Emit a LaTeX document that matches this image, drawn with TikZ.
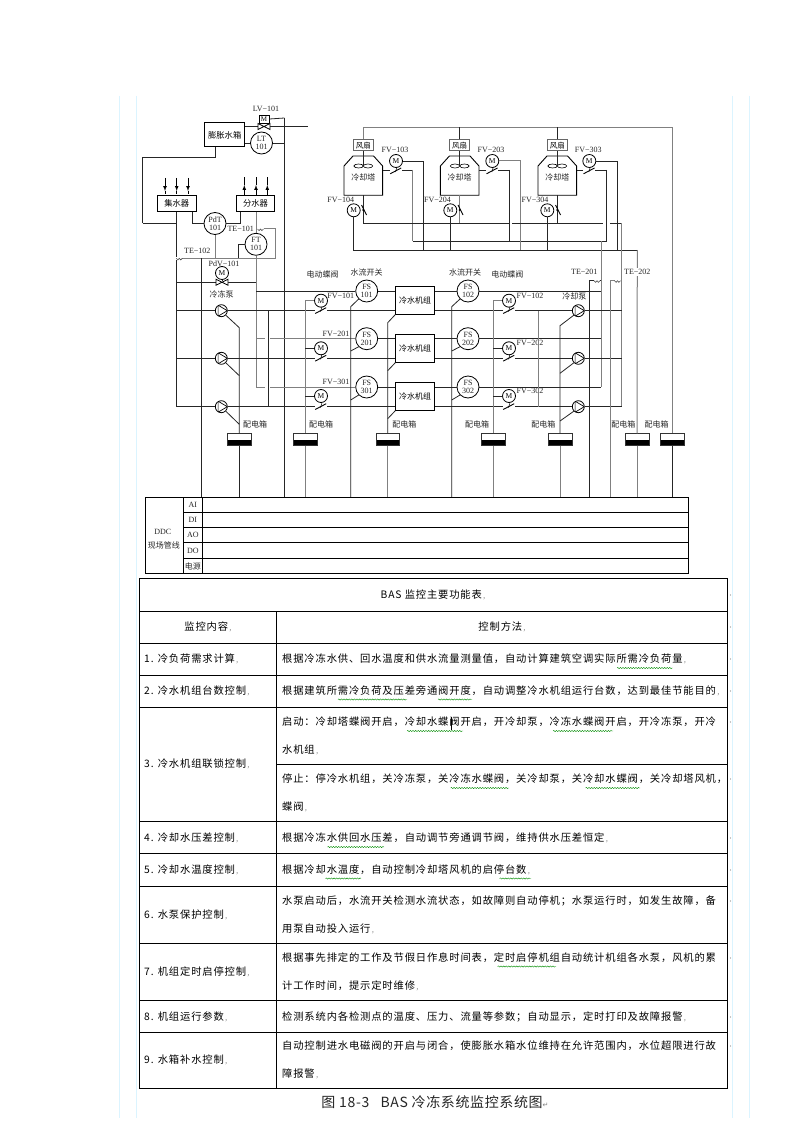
\documentclass[tikz,border=0pt]{standalone}
\usepackage{fontspec}
\setmainfont{Liberation Serif}
\newfontfamily\cjkFont{Noto Sans CJK SC}
\newfontfamily\cjkBody[LetterSpace=8.2]{Noto Sans CJK SC}
\newfontfamily\cjkCaption[LetterSpace=4.5]{Noto Sans CJK SC}
\newfontfamily\arrowFont{DejaVu Sans}
\usetikzlibrary{positioning}
\usetikzlibrary{shapes.geometric,decorations.pathmorphing}
\newcommand{\cellMark}{{\color{black!50}\fontsize{7.5}{7.5}\selectfont\,,}}
\tikzset{
	pipeLine/.style={draw=black!85,line width=0.8pt},
	grayPipe/.style={draw=black!50,line width=1pt},
	tableLine/.style={draw=black,line width=0.9pt},
	spellWave/.style={draw=green!55!black,line width=0.4pt,decorate,decoration={snake,amplitude=0.6pt,segment length=2.6pt}},
	pageEdge/.style={draw=blue!30!cyan!14,line width=0.9pt},
	tagText/.style={font=\fontsize{8}{9}\selectfont,inner sep=0pt,text=black!85},
	cjkTag/.style={font=\fontsize{8}{9}\selectfont\cjkFont,inner sep=0pt,text=black!85},
	cellText/.style={font=\fontsize{10.3}{11}\selectfont\cjkBody,inner sep=0pt,anchor=west},
	meterNode/.style={circle,draw=black,line width=0.8pt,fill=white,minimum size=22pt,inner sep=0pt,align=center,font=\fontsize{8}{7.8}\selectfont,text=black!85},
	motorNode/.style={circle,draw=black,line width=0.8pt,fill=white,minimum size=13pt,inner sep=0pt,font=\fontsize{7.5}{8}\selectfont},
	tankBox/.style={rectangle,draw=black,line width=1pt,fill=white,inner sep=0pt,font=\fontsize{8.3}{9}\selectfont\cjkFont},
	fanBox/.style={rectangle,draw=black!60,line width=1.2pt,fill=white,inner sep=0pt,minimum width=20pt,minimum height=11pt,font=\fontsize{7.5}{8}\selectfont\cjkFont},
	chillerBox/.style={rectangle,draw=black,line width=0.8pt,fill=white,inner sep=0pt,minimum width=39pt,minimum height=28pt,font=\fontsize{8}{9}\selectfont\cjkFont},
	panelBox/.style={rectangle,draw=black!80,line width=0.5pt,fill=white,inner sep=0pt,minimum width=23.5pt,minimum height=11.6pt,
		path picture={\fill[black] (path picture bounding box.west) rectangle (path picture bounding box.south east);}},
	pumpRight/.style={circle,draw=black,line width=0.8pt,fill=white,minimum size=12pt,inner sep=0pt,
		path picture={\draw[line width=0.7pt] ([shift={(-3.2,5.5)}]path picture bounding box.center) -- ([shift={(6,0)}]path picture bounding box.center) -- ([shift={(-3.2,-5.5)}]path picture bounding box.center) -- cycle;}},
	coolTower/.pic={
		\draw[black,line width=0.9pt] (-19.3,20.3) -- (-19.3,-9) -- (-10.3,-19) -- (10.3,-19) -- (19.3,-9) -- (19.3,20.3) -- cycle;
		\draw[black,line width=0.6pt] (-4.7,-9) ellipse (4.7 and 2);
		\draw[black,line width=0.6pt] (4.7,-9) ellipse (4.7 and 2);
		\node[cjkTag] at (0,2.3) {冷却塔};
		\coordinate (-bot) at (0,20.3);
		\coordinate (-east) at (19.3,-5);
		\coordinate (-hub) at (0,-9);
	},
	slashValve/.pic={
		\fill[white] (-6,-2) rectangle (6,2);
		\draw[black,line width=0.9pt] (-5.8,2.8) -- (5.2,-3);
		\draw[black,line width=0.5pt] (-0.5,1) -- (1,-4);
	},
	towerValve/.pic={
		\fill[black] (0,0) circle (1.1);
		\draw[black,line width=0.9pt] (-1.7,-5) -- (3.3,5);
	},
	bowTie/.pic={
		\draw[black,line width=0.8pt,fill=white] (-6,-3) -- (6,3) -- (6,-3) -- (-6,3) -- cycle;
	},
	sensorWiggle/.pic={
		\fill[white] (-3,-1.5) rectangle (3,1.5);
		\draw[black!70,line width=0.6pt] (-3,0) .. controls (-2,2.2) and (-0.8,2.2) .. (0,0) .. controls (0.8,2.2) and (2,2.2) .. (3,0);
	},
	arrowDown/.pic={
		\draw[-latex,black,line width=0.7pt] (0,0) -- (0,13);
		\draw[black,line width=0.7pt] (0,13) -- (0,16);
	},
	arrowUp/.pic={
		\draw[-latex,black,line width=0.7pt] (0,0) -- (0,-11);
		\draw[black,line width=0.7pt] (0,-11) -- (0,-19);
	},
}
\begin{document}
\begin{tikzpicture}[x=1pt,y=-1pt]
	\useasboundingbox (0,0) rectangle (794,1123);
	\fill[white] (0,0) rectangle (794,1123);
	% page margins
	\draw[pageEdge] (119.3,96) -- (119.3,1118);
	\draw[pageEdge] (136.3,96) -- (136.3,1118);
	\draw[pageEdge] (732.5,96) -- (732.5,1118);
	\draw[pageEdge] (749,96) -- (749,1118);

	% bus levels
	\coordinate (ddcTop) at (0,497);
	\coordinate (waterBus) at (0,223.3);
	\coordinate (coolBus) at (0,241);
	\coordinate (ctlBus) at (0,250);
	\coordinate (topEnd) at (672.3,127.3);
	\coordinate (sensBus) at (0,258.3);

	% expansion tank
	\node[tankBox,minimum width=39.5pt,minimum height=24pt] (expTank) at (224.7,135) {膨胀水箱};
	\node[tagText] (lbLV) at (266,108.5) {LV−101};
	\node[rectangle,draw=black,line width=0.7pt,fill=white,inner sep=0pt,minimum width=10pt,minimum height=8pt,font=\fontsize{7}{7}\selectfont] (mvLV) at (264,119) {M};
	\node[meterNode] (lt101) at (261.5,143) {LT\\101};
	\coordinate (fillEnd) at (308,126.5);
	\coordinate (lvDrop) at (284.3,118);
	\coordinate (tankBend) at (142.6,157.5);
	\coordinate (tankFoot) at (142.6,223);
	\draw[pipeLine] (expTank.east |- fillEnd) -- (fillEnd);
	\pic at (264,126.5) {bowTie};
	\draw[pipeLine] (expTank.east |- lt101) -- (lt101);
	\draw[pipeLine] (mvLV.east) -- (lvDrop);
	\draw[pipeLine] (lt101.east) -- (lt101.east -| lvDrop);
	\draw[pipeLine] (lvDrop) -- (lvDrop |- ddcTop);
	\draw[pipeLine] (215,147) |- (tankBend) -- (tankFoot);

	% collector and distributor
	\node[tankBox,minimum width=38.5pt,minimum height=16pt] (collector) at (176.8,203.7) {集水器};
	\node[tankBox,minimum width=37.5pt,minimum height=16pt] (distributor) at (255.5,203.7) {分水器};
	\pic at (165,178) {arrowDown};
	\pic at (176.7,178) {arrowDown};
	\pic at (188,178) {arrowDown};
	\pic at (244.3,196) {arrowUp};
	\pic at (256,196) {arrowUp};
	\pic at (267.3,196) {arrowUp};
	\node[meterNode] (pdt101) at (215,223.5) {PdT\\101};
	\node[meterNode] (ft101) at (256,244.3) {FT\\101};
	\node[tagText] (lbTE101) at (240.7,229.3) {TE−101};
	\node[tagText] (lbTE102) at (197.3,250.7) {TE−102};
	\node[tagText] (lbPdV) at (224,263.7) {PdV−101};
	\node[motorNode] (mvPdV) at (222,273) {M};
	\node[cjkTag] (lbCWP) at (221.7,294.7) {冷冻泵};
	\coordinate (colLeg) at (192.7,211.7);
	\coordinate (disLeg) at (240.7,211.7);
	\coordinate (retTop) at (176.7,211.7);
	\coordinate (disTop) at (256,211.7);
	\coordinate (retA) at (176.7,310.7);
	\coordinate (retB) at (176.7,358.3);
	\coordinate (retC) at (176.7,406.7);
	\coordinate (bypass) at (176.7,282.3);
	\coordinate (bypassEnd) at (256,282.3);
	\coordinate (ftFoot) at (238.3,258.3);
	\coordinate (teBend) at (275.7,229);
	\coordinate (teCorner) at (275.7,258.3);
	\coordinate (teLeft) at (179.3,258.3);
	\coordinate (pdvDrop) at (201.3,258.3);
	\draw[pipeLine] (tankFoot) -- (retTop |- tankFoot);
	\draw[pipeLine] (colLeg) |- (pdt101);
	\draw[pipeLine] (disLeg) |- (pdt101);
	\draw[pipeLine] (retTop) -- (retC);
	\draw[grayPipe] (disTop) -- (ft101);
	\draw[pipeLine] (ft101.west) -| (ftFoot);
	\draw[grayPipe] (260,229) -- (teBend) -- (teCorner) -- (teLeft);
	\draw[grayPipe] (pdt101) -- (pdt101 |- sensBus);
	\pic at (260.5,229) {sensorWiggle};
	\pic at (179.3,258.3) {sensorWiggle};
	\draw[pipeLine] (pdvDrop) -- (pdvDrop |- ddcTop);
	\draw[pipeLine] (bypass) -- (bypassEnd);
	\pic at (222,282.3) {bowTie};
	\draw[pipeLine] (mvPdV) -- (222,279.5);

	% cooling towers
	\node[fanBox] (fanA) at (363.3,145.3) {风扇};
	\node[fanBox] (fanB) at (459.7,145.3) {风扇};
	\node[fanBox] (fanC) at (557.3,145.3) {风扇};
	\pic (towerA) at (363.3,175) {coolTower};
	\pic (towerB) at (459.7,175) {coolTower};
	\pic (towerC) at (557.3,175) {coolTower};
	\draw[grayPipe] (fanA.north) |- (topEnd);
	\draw[pipeLine] (fanB.north) -- (fanB.north |- topEnd);
	\draw[pipeLine] (fanC.north) -- (fanC.north |- topEnd);
	\draw[pipeLine] (fanA) -- (towerA-hub);
	\draw[pipeLine] (fanB) -- (towerB-hub);
	\draw[pipeLine] (fanC) -- (towerC-hub);
	\node[motorNode] (mFV103) at (396,161) {M};
	\node[motorNode] (mFV203) at (492.3,161) {M};
	\node[motorNode] (mFV303) at (589.3,161) {M};
	\node[motorNode] (mFV104) at (353.7,210.3) {M};
	\node[motorNode] (mFV204) at (450.3,210.3) {M};
	\node[motorNode] (mFV304) at (547.3,210.3) {M};
	\node[tagText] (lbFV103) at (395,149.7) {FV−103};
	\node[tagText] (lbFV203) at (491,149.7) {FV−203};
	\node[tagText] (lbFV303) at (588.3,149.7) {FV−303};
	\node[tagText] (lbFV104) at (340.7,200.3) {FV−104};
	\node[tagText] (lbFV204) at (437.5,200.3) {FV−204};
	\node[tagText] (lbFV304) at (535,200.3) {FV−304};
	\coordinate (inA) at (412.7,170);
	\coordinate (inB) at (509.3,170);
	\coordinate (inC) at (606.7,170);
	\coordinate (ctlA) at (423.7,250);
	\coordinate (ctlB) at (520.3,250);
	\coordinate (ctlC) at (617.3,250);
	\coordinate (ctlEnd) at (637.3,250);
	\coordinate (gapWa) at (509,223.3);
	\coordinate (gapWb) at (512.3,223.3);
	\coordinate (gapWc) at (602.7,223.3);
	\coordinate (gapWd) at (610,223.3);
	\coordinate (supTop) at (621.7,223.3);
	\draw[pipeLine] (towerA-east) -- (inA);
	\draw[pipeLine] (towerB-east) -- (inB);
	\draw[pipeLine] (towerC-east) -- (inC);
	\draw[grayPipe] (inA) -- (inA |- coolBus);
	\draw[pipeLine] (inB) -- (inB |- coolBus);
	\draw[pipeLine] (inC) -- (inC |- coolBus);
	\draw[pipeLine] (inA |- coolBus) -- (inC |- coolBus);
	\pic at (396,171) {slashValve};
	\pic at (492.3,171) {slashValve};
	\pic at (589.3,171) {slashValve};
	\draw[pipeLine] (mFV103) -| (ctlA);
	\draw[grayPipe] (mFV203) -| (ctlB);
	\draw[pipeLine] (mFV303) -| (ctlC);
	\draw[pipeLine] (mFV104) -- (mFV104 |- ctlBus) -- (ctlEnd);
	\draw[pipeLine] (mFV204) -- (mFV204 |- ctlBus);
	\draw[pipeLine] (mFV304) -- (mFV304 |- ctlBus);
	\draw[pipeLine] (towerA-bot) -- (towerA-bot |- waterBus);
	\draw[grayPipe] (towerB-bot) -- (towerB-bot |- waterBus);
	\draw[pipeLine] (towerC-bot) -- (towerC-bot |- waterBus);
	\draw[pipeLine] (towerA-bot |- waterBus) -- (gapWa);
	\draw[pipeLine] (gapWb) -- (gapWc);
	\draw[pipeLine] (gapWd) -- (supTop);
	\pic at (363.3,210) {towerValve};
	\pic at (459.7,210) {towerValve};
	\pic at (557.3,210) {towerValve};

	% chiller row
	\node[chillerBox] (chillerA) at (415.2,300.2) {冷水机组};
	\node[chillerBox] (chillerB) at (415.2,348.3) {冷水机组};
	\node[chillerBox] (chillerC) at (415.2,396.3) {冷水机组};
	\node[meterNode] (fs101) at (366.7,291) {FS\\101};
	\node[meterNode] (fs201) at (366.7,338.7) {FS\\201};
	\node[meterNode] (fs301) at (366.7,387) {FS\\301};
	\node[meterNode] (fs102) at (468,291) {FS\\102};
	\node[meterNode] (fs202) at (468,338.7) {FS\\202};
	\node[meterNode] (fs302) at (468,387) {FS\\302};
	\node[motorNode] (mFV101) at (321,300.7) {M};
	\node[motorNode] (mFV201) at (321,348.3) {M};
	\node[motorNode] (mFV301) at (321,396) {M};
	\node[motorNode] (mFV102) at (509,300.7) {M};
	\node[motorNode] (mFV202) at (509,348.3) {M};
	\node[motorNode] (mFV302) at (509,396) {M};
	\node[pumpRight] (pumpA) at (221.3,310.7) {};
	\node[pumpRight] (pumpB) at (221.3,358.3) {};
	\node[pumpRight] (pumpC) at (221.3,406.7) {};
	\node[pumpRight] (pumpD) at (578.3,310.7) {};
	\node[pumpRight] (pumpE) at (578.3,358.3) {};
	\node[pumpRight] (pumpF) at (578.3,406.7) {};
	\node[cjkTag] (lbValveL) at (322.7,274.7) {电动蝶阀};
	\node[cjkTag] (lbSwitchL) at (366.7,272.3) {水流开关};
	\node[cjkTag] (lbSwitchR) at (465,272.3) {水流开关};
	\node[cjkTag] (lbValveR) at (507.3,274.3) {电动蝶阀};
	\node[cjkTag] (lbCTP) at (574.3,296.7) {冷却泵};
	\node[tagText] (lbFV101) at (340.7,295.7) {FV−101};
	\node[tagText] (lbFV201) at (336,334.3) {FV−201};
	\node[tagText] (lbFV301) at (336,382.3) {FV−301};
	\node[tagText] (lbFV102) at (530,295.7) {FV−102};
	\node[tagText] (lbFV202) at (530,343.3) {FV−202};
	\node[tagText] (lbFV302) at (530,390.7) {FV−302};

	% power panels
	\node[panelBox] (panelA) at (239.3,439.5) {};
	\node[panelBox] (panelB) at (305,439.5) {};
	\node[panelBox] (panelC) at (387.7,439.5) {};
	\node[panelBox] (panelD) at (493.3,439.5) {};
	\node[panelBox] (panelE) at (560,439.5) {};
	\node[panelBox] (panelF) at (637,439.5) {};
	\node[panelBox] (panelG) at (672.3,439.5) {};
	\node[cjkTag] (lbPanelA) at (255,424.3) {配电箱};
	\node[cjkTag] (lbPanelB) at (321,424.3) {配电箱};
	\node[cjkTag] (lbPanelC) at (404.3,424.3) {配电箱};
	\node[cjkTag] (lbPanelD) at (477,424.3) {配电箱};
	\node[cjkTag] (lbPanelE) at (543.3,424.3) {配电箱};
	\node[cjkTag] (lbPanelF) at (623.3,424.3) {配电箱};
	\node[cjkTag] (lbPanelG) at (656.7,424.3) {配电箱};

	% water lines
	\coordinate (flowA) at (256,291);
	\coordinate (flowB) at (256,338.7);
	\coordinate (flowC) at (256,387);
	\coordinate (flowAe) at (601.3,291);
	\coordinate (flowBe) at (601.3,338.7);
	\coordinate (flowCe) at (601.3,387);
	\coordinate (coolDrop) at (601.3,241);
	\coordinate (supA) at (621.7,310.7);
	\coordinate (supB) at (621.7,358.3);
	\coordinate (supC) at (621.7,406.7);
	\coordinate (tieTop) at (268.3,310.7);
	\coordinate (tieBot) at (268.3,406.7);
	\coordinate (tieRtop) at (538,310.7);
	\coordinate (tieRbot) at (538,406.7);
	\draw[grayPipe] (ft101) -- (flowC);
	\draw[pipeLine] (flowA) -- (fs101);
	\draw[grayPipe] (flowB) -- (265,338.7);
	\draw[grayPipe] (270,338.7) -- (fs201);
	\draw[grayPipe] (flowC) -- (265,387);
	\draw[grayPipe] (270,387) -- (fs301);
	\draw[pipeLine] (fs101) -- (fs101 -| chillerA.west);
	\draw[pipeLine] (fs201) -- (fs201 -| chillerB.west);
	\draw[pipeLine] (fs301) -- (fs301 -| chillerC.west);
	\draw[pipeLine] (fs102 -| chillerA.east) -- (fs102);
	\draw[pipeLine] (fs202 -| chillerB.east) -- (fs202);
	\draw[pipeLine] (fs302 -| chillerC.east) -- (fs302);
	\draw[pipeLine] (fs102) -- (flowAe);
	\draw[pipeLine] (fs202) -- (flowBe);
	\draw[pipeLine] (fs302) -- (flowCe);
	\draw[grayPipe] (coolDrop) -- (flowCe);
	\draw[grayPipe] (supTop) -- (supC);
	\draw[pipeLine] (retA) -- (pumpA) -- (chillerA.west |- retA);
	\draw[pipeLine] (retB) -- (pumpB) -- (chillerB.west |- retB);
	\draw[pipeLine] (retC) -- (pumpC) -- (chillerC.west |- retC);
	\draw[pipeLine] (chillerA.east |- supA) -- (pumpD) -- (supA);
	\draw[pipeLine] (chillerB.east |- supB) -- (pumpE) -- (supB);
	\draw[pipeLine] (chillerC.east |- supC) -- (pumpF) -- (supC);
	\draw[pipeLine] (tieTop) -- (tieBot);
	\draw[grayPipe] (tieRtop) -- (tieRbot);
	\pic at (321,310.7) {slashValve};
	\pic at (321,358.3) {slashValve};
	\pic at (321,406.7) {slashValve};
	\pic at (509,310.7) {slashValve};
	\pic at (509,358.3) {slashValve};
	\pic at (509,406.7) {slashValve};

	% signal lines to the ddc table
	\coordinate (sigFS) at (350.7,306.7);
	\coordinate (sigFSb) at (350.7,351);
	\coordinate (sigFSc) at (350.7,400);
	\coordinate (sigFSr) at (451.7,306.7);
	\coordinate (sigFSrb) at (451.7,351);
	\coordinate (sigFSrc) at (451.7,400);
	\coordinate (legA) at (239.3,327.7);
	\coordinate (legB) at (239.3,375.7);
	\coordinate (legC) at (239.3,424.3);
	\coordinate (legD) at (560,325.7);
	\coordinate (legE) at (560,373.3);
	\coordinate (legF) at (560,421);
	\coordinate (chLegA) at (387.7,322.7);
	\coordinate (chLegB) at (387.7,370.7);
	\coordinate (chLegC) at (387.7,418.7);
	\draw[pipeLine] (fs101.south west) -- (sigFS) -- (sigFS |- ddcTop);
	\draw[pipeLine] (fs201.south west) -- (sigFSb);
	\draw[pipeLine] (fs301.south west) -- (sigFSc);
	\draw[pipeLine] (fs102.south west) -- (sigFSr) -- (sigFSr |- ddcTop);
	\draw[pipeLine] (fs202.south west) -- (sigFSrb);
	\draw[pipeLine] (fs302.south west) -- (sigFSrc);
	\draw[pipeLine] (pumpA.south east) -- (legA) -- (panelA.north);
	\draw[pipeLine] (pumpB.south east) -- (legB);
	\draw[pipeLine] (pumpC.south east) -- (legC);
	\draw[pipeLine] (pumpD.south west) -- (legD) -- (panelE.north);
	\draw[pipeLine] (pumpE.south west) -- (legE);
	\draw[pipeLine] (pumpF.south west) -- (legF);
	\draw[pipeLine] (chillerA.south west) -- (chLegA) -- (panelC.north);
	\draw[pipeLine] (chillerB.south west) -- (chLegB);
	\draw[pipeLine] (chillerC.south west) -- (chLegC);
	\draw[grayPipe] (mFV101) -| (panelB.north);
	\draw[pipeLine] (mFV201) -- (mFV201 -| panelB);
	\draw[pipeLine] (mFV301) -- (mFV301 -| panelB);
	\draw[grayPipe] (mFV102) -| (panelD.north);
	\draw[pipeLine] (mFV202) -- (mFV202 -| panelD);
	\draw[pipeLine] (mFV302) -- (mFV302 -| panelD);
	\draw[pipeLine] (panelA.south) -- (panelA.south |- ddcTop);
	\draw[grayPipe] (panelB.south) -- (panelB.south |- ddcTop);
	\draw[grayPipe] (panelC.south) -- (panelC.south |- ddcTop);
	\draw[grayPipe] (panelD.south) -- (panelD.south |- ddcTop);
	\draw[grayPipe] (panelE.south) -- (panelE.south |- ddcTop);
	\draw[grayPipe] (ctlEnd) -- (panelF.north);
	\draw[grayPipe] (panelF.south) -- (panelF.south |- ddcTop);
	\draw[grayPipe] (topEnd) -- (panelG.north);
	\draw[pipeLine] (panelG.south) -- (panelG.south |- ddcTop);

	% sensors te-201 and te-202
	\coordinate (teA) at (589.3,280.7);
	\coordinate (teAe) at (601.3,280.7);
	\coordinate (teB) at (610,280.7);
	\coordinate (teBe) at (621.7,280.7);
	\draw[pipeLine] (teA |- ddcTop) -- (teA) -- (teAe);
	\draw[grayPipe] (teB |- ddcTop) -- (teB) -- (teBe);
	\pic at (597,280.7) {sensorWiggle};
	\pic at (617.5,280.7) {sensorWiggle};
	\node[tagText] (lbTE201) at (584.3,272) {TE−201};
	\node[tagText,fill=white,inner sep=1pt] (lbTE202) at (637.3,272) {TE−202};

	% ddc wiring table
	\draw[tableLine,line width=1pt] (145.3,497) rectangle (688.3,573);
	\draw[tableLine] (183.3,497) -- (183.3,573);
	\draw[tableLine] (202.3,497) -- (202.3,573);
	\draw[tableLine] (183.3,512.3) -- (688.3,512.3);
	\draw[tableLine] (183.3,527.3) -- (688.3,527.3);
	\draw[tableLine] (183.3,542.3) -- (688.3,542.3);
	\draw[tableLine] (183.3,558.7) -- (688.3,558.7);
	\node[tagText] (lbAI) at (192.8,505) {AI};
	\node[tagText] (lbDI) at (192.8,520) {DI};
	\node[tagText] (lbAO) at (192.8,535) {AO};
	\node[tagText] (lbDO) at (192.8,550.7) {DO};
	\node[cjkTag] (lbPower) at (192.8,566.5) {电源};
	\node[tagText] (lbDDC) at (162.7,532.3) {DDC};
	\node[cjkTag] (lbField) at (163.8,545) {现场管线};

	% function table
	\draw[tableLine,line width=1pt] (139.3,578.3) rectangle (727.5,1088);
	\draw[tableLine] (139.3,611.3) -- (727.5,611.3);
	\draw[tableLine] (139.3,643.3) -- (727.5,643.3);
	\draw[tableLine] (139.3,675.3) -- (727.5,675.3);
	\draw[tableLine] (139.3,707.3) -- (727.5,707.3);
	\draw[tableLine] (276.5,764.3) -- (727.5,764.3);
	\draw[tableLine] (139.3,821.3) -- (727.5,821.3);
	\draw[tableLine] (139.3,853.5) -- (727.5,853.5);
	\draw[tableLine] (139.3,886) -- (727.5,886);
	\draw[tableLine] (139.3,943) -- (727.5,943);
	\draw[tableLine] (139.3,1000) -- (727.5,1000);
	\draw[tableLine] (139.3,1032.5) -- (727.5,1032.5);
	\draw[tableLine] (276.5,611.3) -- (276.5,1088);
	\node[cellText,anchor=center] (tblTitle) at (433,595) {BAS 监控主要功能表\cellMark};
	\node[cellText,anchor=center] (headL) at (208,627) {监控内容\cellMark};
	\node[cellText,anchor=center] (headR) at (502,627) {控制方法\cellMark};
	\node[cellText] (itemA) at (144,659) {1. 冷负荷需求计算\cellMark};
	\node[cellText] (itemB) at (144,691) {2. 冷水机组台数控制\cellMark};
	\node[cellText] (itemC) at (144,764) {3. 冷水机组联锁控制\cellMark};
	\node[cellText] (itemD) at (144,838) {4. 冷却水压差控制\cellMark};
	\node[cellText] (itemE) at (144,870) {5. 冷却水温度控制\cellMark};
	\node[cellText] (itemF) at (144,915) {6. 水泵保护控制\cellMark};
	\node[cellText] (itemG) at (144,972) {7. 机组定时启停控制\cellMark};
	\node[cellText] (itemH) at (144,1017) {8. 机组运行参数\cellMark};
	\node[cellText] (itemI) at (144,1060) {9. 水箱补水控制\cellMark};
	\node[cellText] (textA) at (282,659) {根据冷冻水供、回水温度和供水流量测量值，自动计算建筑空调实际所需冷负荷量\cellMark};
	\node[cellText] (textB) at (282,691) {根据建筑所需冷负荷及压差旁通阀开度，自动调整冷水机组运行台数，达到最佳节能目的\cellMark};
	\node[cellText] (textC) at (282,722) {启动：冷却塔蝶阀开启，冷却水蝶阀开启，开冷却泵，冷冻水蝶阀开启，开冷冻泵，开冷};
	\node[cellText] (textCb) at (282,750) {水机组\cellMark};
	\node[cellText] (textCc) at (282,779) {停止：停冷水机组，关冷冻泵，关冷冻水蝶阀，关冷却泵，关冷却水蝶阀，关冷却塔风机，};
	\node[cellText] (textCd) at (282,807) {蝶阀\cellMark};
	\node[cellText] (textD) at (282,838) {根据冷冻水供回水压差，自动调节旁通调节阀，维持供水压差恒定\cellMark};
	\node[cellText] (textE) at (282,870) {根据冷却水温度，自动控制冷却塔风机的启停台数\cellMark};
	\node[cellText] (textF) at (282,901) {水泵启动后，水流开关检测水流状态，如故障则自动停机；水泵运行时，如发生故障，备};
	\node[cellText] (textFb) at (282,929) {用泵自动投入运行\cellMark};
	\node[cellText] (textG) at (282,958) {根据事先排定的工作及节假日作息时间表，定时启停机组自动统计机组各水泵，风机的累};
	\node[cellText] (textGb) at (282,986) {计工作时间，提示定时维修\cellMark};
	\node[cellText] (textH) at (282,1017) {检测系统内各检测点的温度、压力、流量等参数；自动显示，定时打印及故障报警\cellMark};
	\node[cellText] (textI) at (282,1046) {自动控制进水电磁阀的开启与闭合，使膨胀水箱水位维持在允许范围内，水位超限进行故};
	\node[cellText] (textIb) at (282,1074) {障报警\cellMark};
	\node[inner sep=0pt,font=\fontsize{14}{15}\selectfont\cjkCaption,text=black!85] (figCaption) at (435,1102) {图 18-3\ \ \ BAS 冷冻系统监控系统图{\arrowFont\fontsize{7}{8}\selectfont\color{black!50}↵}};

	% spelling marks of the word processor
	\draw[spellWave] (617,668) -- (672.7,668);
	\draw[spellWave] (338,699.5) -- (407,699.5);
	\draw[spellWave] (438,699.5) -- (472,699.5);
	\draw[spellWave] (407,731) -- (463,731);
	\draw[spellWave] (553,731) -- (613,731);
	\draw[spellWave] (450.7,788) -- (509,788);
	\draw[spellWave] (585.6,788) -- (640,788);
	\draw[spellWave] (327.5,847) -- (384,847);
	\draw[spellWave] (325.5,878.5) -- (361,878.5);
	\draw[spellWave] (499.6,878.5) -- (531,878.5);
	\draw[spellWave] (497.6,966.5) -- (556,966.5);
	% cursor
	\draw[black,line width=1.2pt] (451.7,716.7) -- (451.7,730);
	% row marks at the right edge
	\fill[black!45] (730.5,595) circle (0.7);
	\fill[black!45] (730.5,627) circle (0.7);
	\fill[black!45] (730.5,659) circle (0.7);
	\fill[black!45] (730.5,691) circle (0.7);
	\fill[black!45] (730.5,722) circle (0.7);
	\fill[black!45] (730.5,779) circle (0.7);
	\fill[black!45] (730.5,838) circle (0.7);
	\fill[black!45] (730.5,870) circle (0.7);
	\fill[black!45] (730.5,901) circle (0.7);
	\fill[black!45] (730.5,958) circle (0.7);
	\fill[black!45] (730.5,1017) circle (0.7);
	\fill[black!45] (730.5,1046) circle (0.7);
\end{tikzpicture}
\end{document}
